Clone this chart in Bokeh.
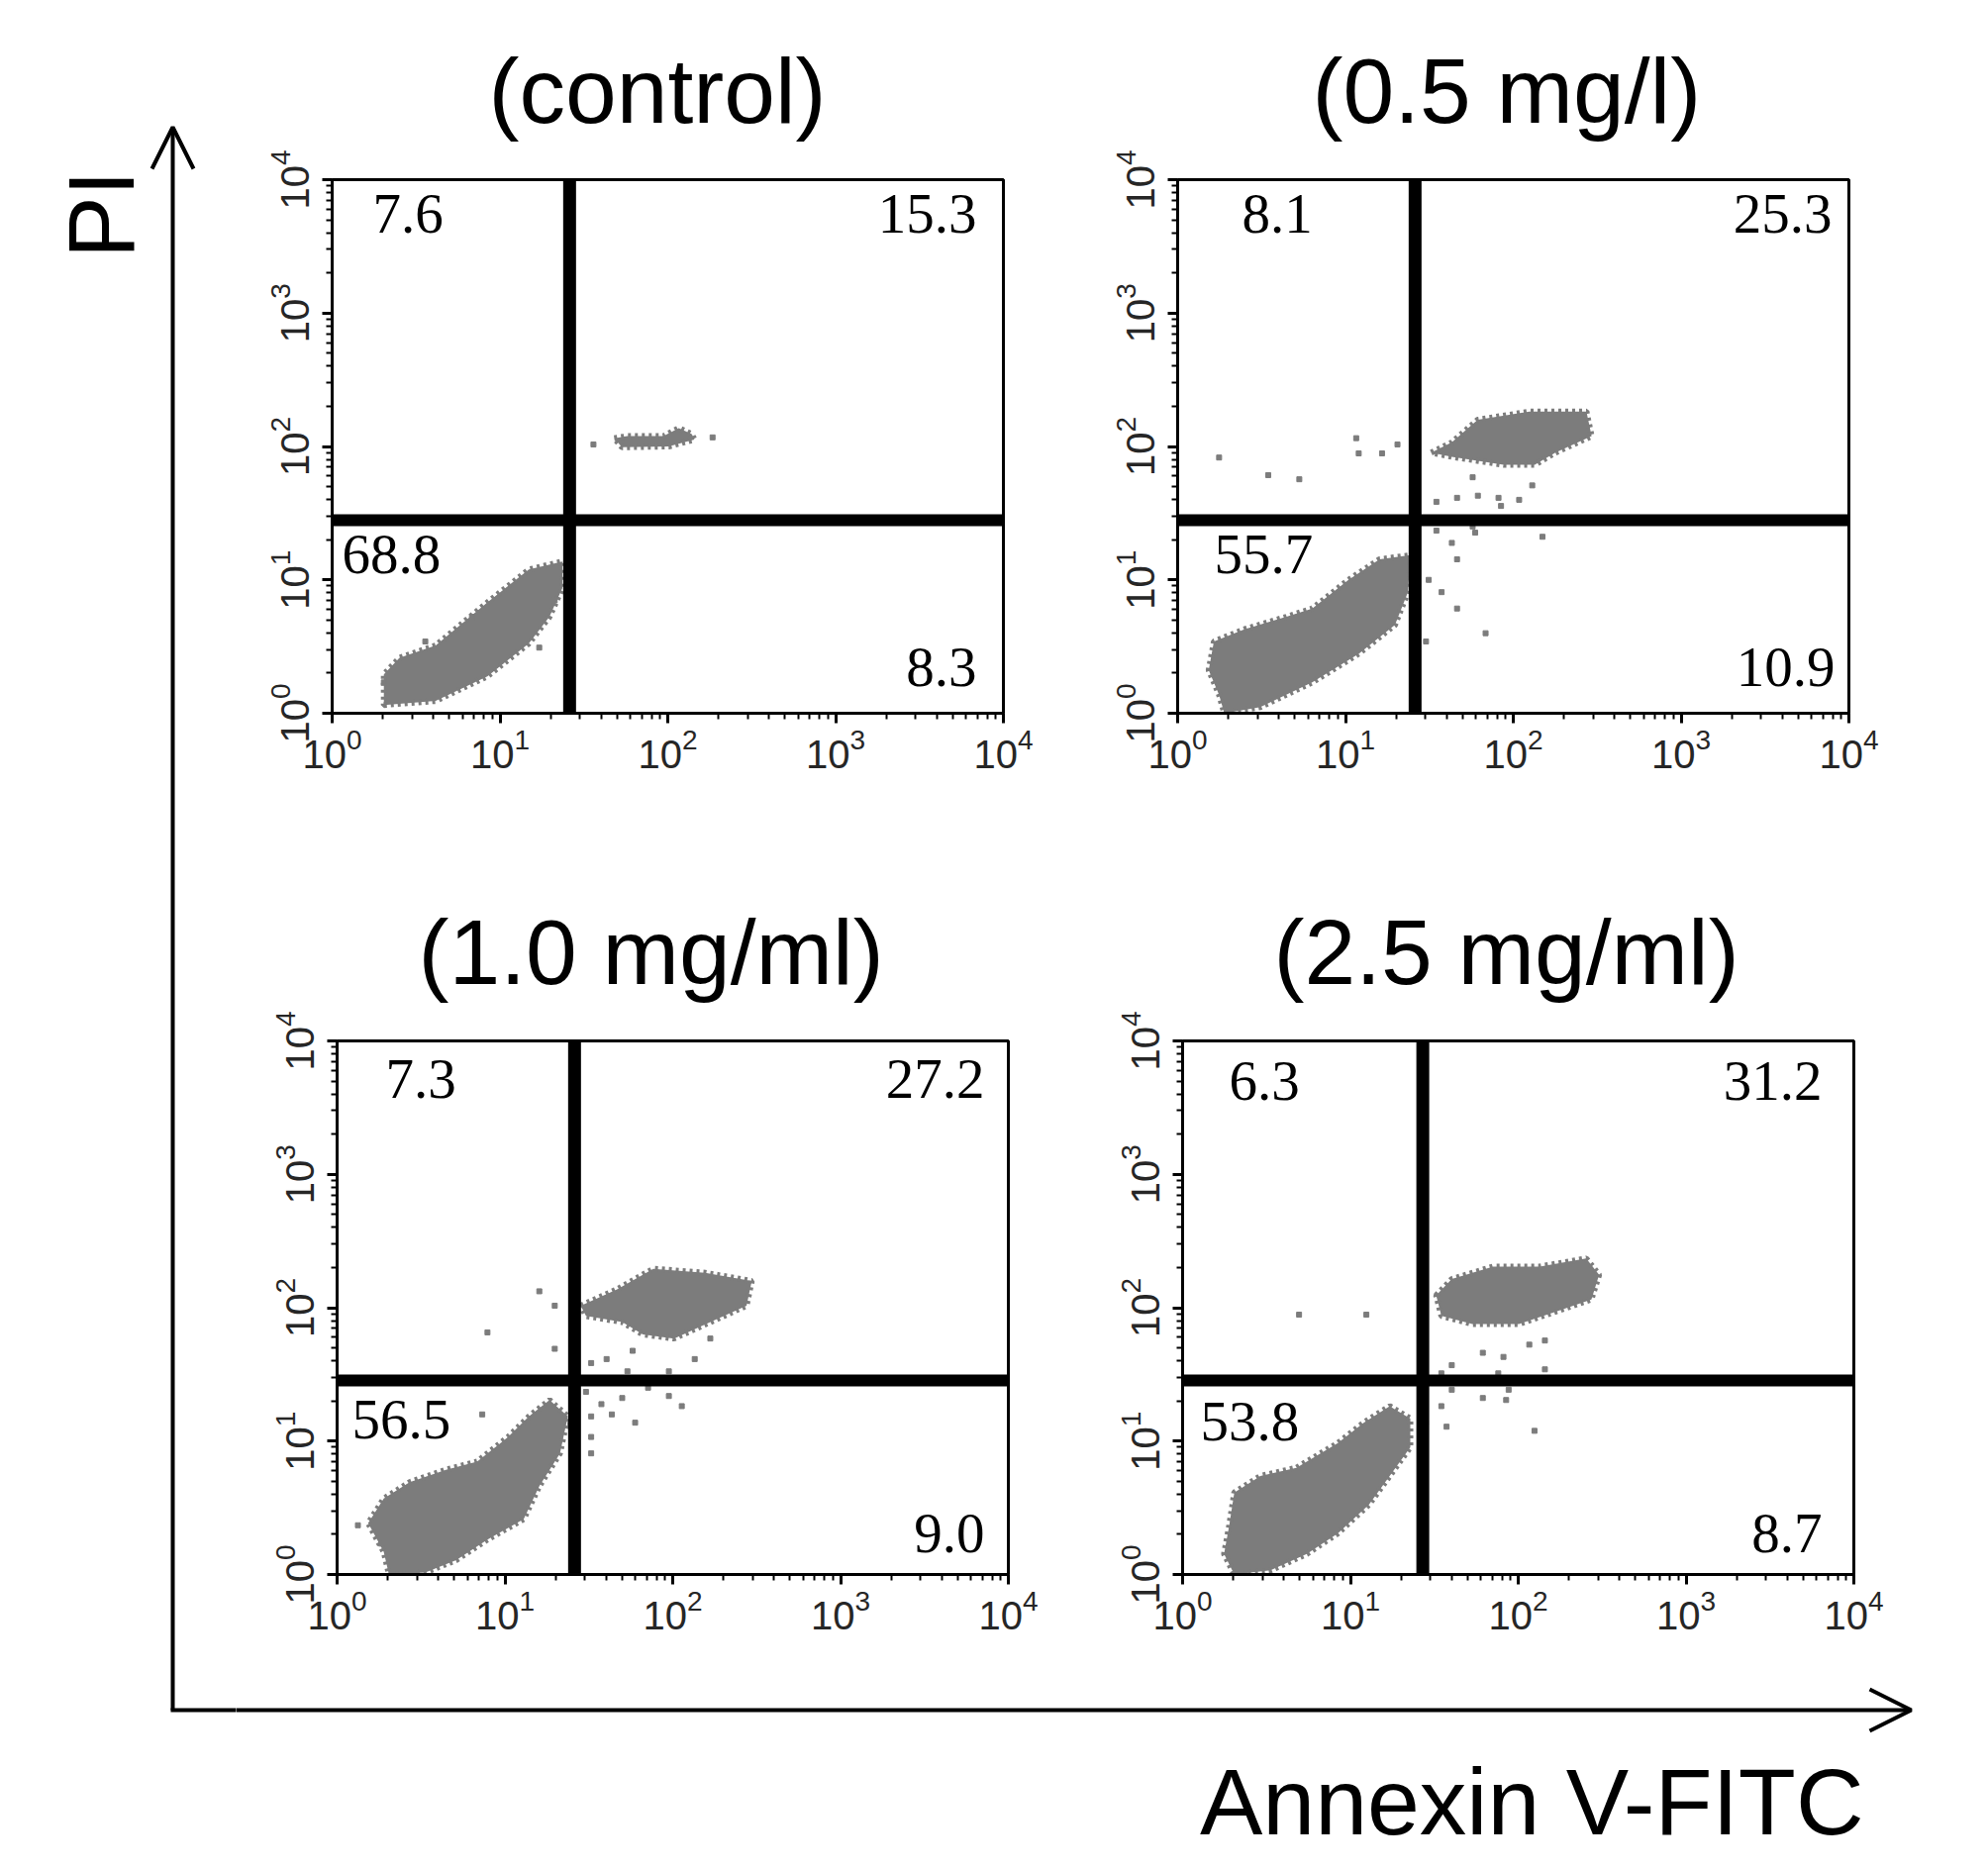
from bokeh.plotting import figure
from bokeh.models import Span, Label, Arrow, OpenHead, FixedTicker, Range1d, Spacer
from bokeh.layouts import row, column
from bokeh.embed import file_html
from bokeh.resources import INLINE

# ---- data ---------------------------------------------------------------
titles = ["(control)", "(0.5 mg/l)", "(1.0 mg/ml)", "(2.5 mg/ml)"]
pct_ul = ["7.6", "8.1", "7.3", "6.3"]
pct_ur = ["15.3", "25.3", "27.2", "31.2"]
pct_ll = ["68.8", "55.7", "56.5", "53.8"]
pct_lr = ["8.3", "10.9", "9.0", "8.7"]
gate_x = [26, 26, 26, 27]
gate_y = [28, 28, 28.5, 28.5]
axis_ticks = [1, 10, 100, 1000, 10000]
minor_ticks = [m * 10 ** k for k in range(4) for m in range(2, 10)]

# cluster outlines and stray events, in decades (log10 of intensity)
control_live_x = [0.308, 0.617, 0.925, 1.172, 1.295, 1.372, 1.372, 1.172, 0.925, 0.617, 0.401, 0.308]
control_live_y = [0.062, 0.092, 0.277, 0.523, 0.723, 0.938, 1.138, 1.077, 0.831, 0.508, 0.415, 0.292]
control_dead_x = [1.681, 1.758, 1.974, 2.066, 2.143, 2.159, 2.005, 1.727]
control_dead_y = [2.062, 2.077, 2.077, 2.138, 2.092, 2.052, 2.0, 1.994]
control_dots_x = [1.557, 2.267, 0.555, 1.234, 1.326, 0.308, 0.833]
control_dots_y = [2.015, 2.068, 0.538, 0.492, 0.846, 0.231, 0.723]

low_live_x = [0.278, 0.493, 0.802, 1.079, 1.295, 1.372, 1.388, 1.203, 1.018, 0.802, 0.648, 0.401, 0.216, 0.185, 0.247]
low_live_y = [0.0, 0.046, 0.231, 0.446, 0.662, 0.908, 1.185, 1.154, 1.0, 0.785, 0.723, 0.631, 0.538, 0.323, 0.138]
low_dead_x = [1.511, 1.634, 1.788, 2.097, 2.436, 2.467, 2.251, 2.128, 1.943, 1.634]
low_dead_y = [1.954, 2.031, 2.2, 2.262, 2.262, 2.077, 1.954, 1.862, 1.862, 1.923]
low_dots_x = [0.247, 0.54, 0.725, 1.064, 1.079, 1.218, 1.31, 1.665, 1.789, 1.912, 2.035, 1.927, 1.758,
              2.113, 1.542, 1.758, 1.773, 1.634, 1.665, 1.573, 1.665, 1.835, 2.174, 1.48, 1.496, 1.542]
low_dots_y = [1.917, 1.785, 1.754, 2.062, 1.948, 1.948, 2.015, 1.615, 1.631, 1.615, 1.6, 1.554, 1.769,
              1.708, 1.585, 1.4, 1.354, 1.277, 1.154, 0.908, 0.785, 0.6, 1.323, 0.538, 1.0, 1.369]

mid_live_x = [0.309, 0.525, 0.71, 0.896, 1.112, 1.205, 1.328, 1.375, 1.266, 1.143, 1.019, 0.834, 0.649, 0.432, 0.278, 0.185, 0.278]
mid_live_y = [0.0, 0.015, 0.108, 0.262, 0.415, 0.662, 0.908, 1.185, 1.308, 1.185, 1.031, 0.846, 0.785, 0.692, 0.569, 0.385, 0.169]
mid_dead_x = [1.452, 1.668, 1.884, 2.193, 2.471, 2.44, 2.224, 2.008, 1.822, 1.699, 1.483]
mid_dead_y = [2.015, 2.138, 2.292, 2.262, 2.2, 2.015, 1.892, 1.769, 1.8, 1.892, 1.938]
mid_dots_x = [1.205, 1.297, 0.896, 1.297, 1.514, 1.606, 1.761, 2.131, 2.224, 1.73, 1.977, 1.853, 1.483,
              1.575, 1.637, 1.699, 1.977, 2.054, 1.514, 1.776, 1.514, 1.514, 1.39, 0.124, 0.263, 0.865]
mid_dots_y = [2.123, 2.015, 1.815, 1.692, 1.585, 1.615, 1.677, 1.615, 1.769, 1.523, 1.523, 1.4, 1.369,
              1.277, 1.2, 1.323, 1.338, 1.262, 1.185, 1.138, 1.031, 0.908, 1.123, 0.369, 0.231, 1.2]

high_live_x = [0.308, 0.524, 0.74, 0.925, 1.11, 1.234, 1.357, 1.357, 1.234, 1.079, 0.925, 0.678, 0.463, 0.308, 0.278, 0.247]
high_live_y = [0.0, 0.031, 0.154, 0.308, 0.523, 0.738, 0.954, 1.169, 1.262, 1.138, 0.985, 0.8, 0.738, 0.615, 0.369, 0.154]
high_dead_x = [1.511, 1.604, 1.85, 2.128, 2.405, 2.482, 2.436, 2.22, 2.004, 1.727, 1.542]
high_dead_y = [2.092, 2.215, 2.308, 2.308, 2.369, 2.246, 2.062, 1.969, 1.877, 1.877, 1.938]
high_dots_x = [0.694, 1.095, 1.604, 1.789, 1.912, 2.066, 2.159, 1.881, 1.943, 1.928, 1.789, 1.604, 1.542,
               1.573, 2.097, 1.449, 1.542, 2.159]
high_dots_y = [1.948, 1.948, 1.569, 1.662, 1.631, 1.723, 1.754, 1.508, 1.385, 1.308, 1.323, 1.385, 1.262,
               1.108, 1.077, 1.138, 1.508, 1.538]

clusters = [
    (control_live_x, control_live_y, control_dead_x, control_dead_y, control_dots_x, control_dots_y),
    (low_live_x, low_live_y, low_dead_x, low_dead_y, low_dots_x, low_dots_y),
    (mid_live_x, mid_live_y, mid_dead_x, mid_dead_y, mid_dots_x, mid_dots_y),
    (high_live_x, high_live_y, high_dead_x, high_dead_y, high_dots_x, high_dots_y),
]

# ---- layout (pixels) -----------------------------------------------------
FRAME_W, FRAME_H = 678, 539
border_left = [97, 116, 97, 116]
border_top = [181, 181, 231, 231]
title_left = [158, 136, 82, 92]     # title start, measured from frame left
ul_dx = [41, 65, 49, 47]
ul_dy = [54, 54, 58, 60]
ur_dx = [-27, -17, -24, -32]
ll_dx = [10, 37, 15, 18]
ll_dy = [55, 55, 60, 62]
lr_dx = [-27, -14, -24, -32]
lr_dy = [27, 27, 22, 22]
BASE_FIX = 20   # text sits lower than its alphabetic anchor in this renderer

DOT = "#7c7c7c"
SANS = "Liberation Sans"
SERIF = "Liberation Serif"


def delog(vals):
    return [10 ** v for v in vals]


def make_panel(i):
    p = figure(
        x_axis_type="log", y_axis_type="log",
        x_range=Range1d(1, 10000), y_range=Range1d(1, 10000),
        frame_width=FRAME_W, frame_height=FRAME_H,
        min_border_left=border_left[i], min_border_right=60,
        min_border_top=border_top[i], min_border_bottom=100,
        output_backend="svg", toolbar_location=None, title=titles[i],
    )
    p.title.text_font = SANS
    p.title.text_font_size = "93px"
    p.title.text_font_style = "normal"
    p.title.text_color = "black"
    p.title.align = "left"
    p.title.offset = title_left[i]
    p.title.standoff = 75
    p.grid.visible = False
    p.outline_line_color = "black"
    p.outline_line_width = 3

    for ax in (p.xaxis[0], p.yaxis[0]):
        ax.ticker = FixedTicker(ticks=axis_ticks, minor_ticks=minor_ticks)
        ax.axis_line_width = 3
        ax.major_tick_line_width = 3
        ax.minor_tick_line_width = 2
        ax.major_tick_out = 10
        ax.major_tick_in = 0
        ax.minor_tick_out = 6
        ax.minor_tick_in = 0
        ax.major_label_text_font = SANS
        ax.major_label_text_font_size = "40px"
        ax.major_label_text_color = "#262626"
    p.xaxis.major_label_standoff = 4
    p.yaxis.major_label_standoff = 14
    p.yaxis.major_label_orientation = "vertical"

    # event clouds: filled core plus a beaded edge of single events
    lx, ly, dx, dy, sx, sy = clusters[i]
    for cx, cy in ((lx, ly), (dx, dy)):
        p.patch(delog(cx), delog(cy), fill_color=DOT, line_color=DOT, line_width=6,
                line_dash="3 4")
    p.scatter(delog(sx), delog(sy), marker="square", size=5, color=DOT)

    p.add_layout(Span(location=gate_x[i], dimension="height", line_color="black", line_width=13))
    p.add_layout(Span(location=gate_y[i], dimension="width", line_color="black", line_width=12))

    common = dict(text_font=SERIF, text_font_size="57px", text_color="black",
                  text_baseline="alphabetic")
    p.add_layout(Label(x=1, y=10000, x_offset=ul_dx[i], y_offset=-ul_dy[i] + BASE_FIX,
                       text=pct_ul[i], text_align="left", **common))
    p.add_layout(Label(x=10000, y=10000, x_offset=ur_dx[i], y_offset=-ul_dy[i] + BASE_FIX,
                       text=pct_ur[i], text_align="right", **common))
    p.add_layout(Label(x=1, y=gate_y[i], x_offset=ll_dx[i], y_offset=-ll_dy[i] + BASE_FIX,
                       text=pct_ll[i], text_align="left", **common))
    p.add_layout(Label(x=10000, y=1, x_offset=lr_dx[i], y_offset=lr_dy[i] + BASE_FIX,
                       text=pct_lr[i], text_align="right", **common))
    return p


def blank(width, height, x0, x1, y0, y1):
    p = figure(width=width, height=height, x_range=Range1d(x0, x1), y_range=Range1d(y0, y1),
               min_border=0, output_backend="svg", toolbar_location=None)
    p.axis.visible = False
    p.grid.visible = False
    p.outline_line_color = None
    return p


# left strip: PI arrow and label (coords: x = screen x, y = 1880 - screen y)
left = blank(238, 1880, 0, 238, 0, 1880)
left.add_layout(Arrow(end=OpenHead(size=42, line_width=4, line_color="black"),
                      x_start=174, y_start=153, x_end=174, y_end=1752, line_width=4))
left.add_layout(Arrow(end=None, x_start=174, y_start=153, x_end=240, y_end=153,
                      line_width=4, line_cap="square"))
left.add_layout(Label(x=102, y=1664, text="PI", angle=1.5708, text_font=SANS, text_color="black",
                      text_font_size="94px", text_align="center", text_baseline="middle"))

# bottom strip: Annexin arrow and label
bottom = blank(1700, 190, 238, 1938, 0, 190)
bottom.add_layout(Arrow(end=OpenHead(size=42, line_width=4, line_color="black"),
                        x_start=236, y_start=153, x_end=1930, y_end=153, line_width=4))
bottom.add_layout(Label(x=1882, y=33 + 28, text="Annexin V-FITC", text_font=SANS, text_color="black",
                        text_font_size="95px", text_align="right", text_baseline="alphabetic"))

panels = [make_panel(i) for i in range(4)]
right = column(
    row(panels[0], panels[1]),
    row(Spacer(width=5, height=10), panels[2], panels[3]),
    bottom,
)
p = row(left, right)

open("out.html", "w").write(file_html(p, INLINE))
